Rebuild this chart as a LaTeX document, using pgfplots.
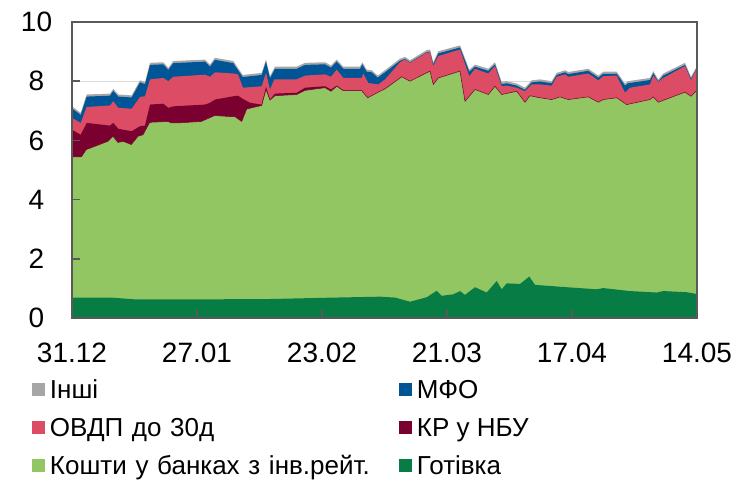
\documentclass[border=0pt]{standalone}
\usepackage{fontspec}
\setmainfont{Liberation Sans}
\usepackage{pgfplots}
\pgfplotsset{compat=1.18}
\definecolor{cGray}{HTML}{A6A6A6}
\definecolor{cBlue}{HTML}{005596}
\definecolor{cPink}{HTML}{DC4D65}
\definecolor{cMaroon}{HTML}{7A0030}
\definecolor{cLight}{HTML}{92C663}
\definecolor{cDark}{HTML}{077D45}
\definecolor{cAxis}{HTML}{595959}
\definecolor{cGrid}{HTML}{D9D9D9}
\begin{document}
\begin{tikzpicture}
\useasboundingbox (-54pt,-122.25pt) rectangle (498pt,238.5pt);
\begin{axis}[
  at={(0,0)}, anchor=south west,
  scale only axis, width=468.75pt, height=222pt,
  xmin=0, xmax=625, ymin=0, ymax=10,
  axis on top,
  axis line style={cAxis, line width=1.1pt},
  xtick={0,125,250,375,500,625},
  xticklabels={31.12,27.01,23.02,21.03,17.04,14.05},
  ytick={0,2,4,6,8,10},
  xtick pos=left, ytick pos=left,
  tick align=inside,
  major tick length=6pt,
  tick style={cAxis, line width=1.1pt},
  tick label style={font=\fontsize{21}{25}\selectfont},
  yticklabel style={anchor=center, xshift=-26.6pt},
  xticklabel style={anchor=center, yshift=-26.25pt},
  /pgf/number format/assume math mode=true,
  legend columns=2, legend cell align=left,
  legend style={
    draw=none, fill=none, inner sep=0pt, outer sep=0pt,
    at={(0,0)}, anchor=north west, xshift=-30pt, yshift=-46.5pt,
    font=\fontsize{19.5}{23}\selectfont,
    row sep=10.5pt,
    nodes={inner sep=0pt, text height=14pt, text depth=4pt},
    /tikz/column 1/.style={column sep=3.75pt},
    /tikz/column 2/.style={text width=261.75pt, column sep=0pt},
    /tikz/column 3/.style={column sep=3.75pt},
  },
  legend image code/.code={\fill[#1,draw=none] (0pt,-2.9pt) rectangle (9.75pt,6.9pt);},
]
\addplot[cGrid, line width=0.75pt, forget plot] coordinates {(0,8) (625,8)};
\addplot[cGrid, line width=0.75pt, forget plot] coordinates {(0,6) (625,6)};

% Інші (top of stack)
\addplot[fill=cGray, draw=none] coordinates {
(0,7.15) (8.7,6.93) (14.7,7.55) (38,7.58) (41.3,7.74) (46.3,7.55) (59.7,7.52) (68,8.03) (73,7.97) (78,8.62) (91.3,8.64) (96.3,8.45) (101.3,8.68) (133,8.73) (138,8.56) (143,8.79) (161.3,8.68) (170.7,8.21) (189.7,8.28) (194,8.73) (198,8.17) (203,8.49) (224.7,8.49) (233,8.62) (253,8.64) (259,8.53) (264.7,8.73) (271.3,8.49) (288,8.49) (290.3,8.64) (294.7,8.39) (299.7,8.37) (305.7,8.19) (313,8.37) (328,8.76) (333,8.82) (338,8.71) (354.7,9.05) (358,9.07) (361.3,8.64) (366.3,9.01) (388,9.21) (397.3,8.39) (403,8.56) (416.3,8.42) (423,8.64) (429.7,7.97) (434.7,8.00) (444.7,7.92) (453,7.78) (459.7,8.03) (468,8.06) (479.7,8.00) (484.7,8.28) (493,8.37) (496.3,8.31) (516.3,8.42) (526.3,8.19) (531.3,8.32) (544.7,8.32) (553,7.92) (556,8.00) (578,8.11) (581.3,8.34) (586.3,8.06) (591.3,8.26) (613,8.62) (619,8.15) (625,8.51)
} \closedcycle;
\addlegendentry{Інші}

% МФО
\addplot[fill=cBlue, draw=none] coordinates {
(0,7.08) (8.7,6.86) (14.7,7.48) (38,7.51) (41.3,7.67) (46.3,7.48) (59.7,7.45) (68,7.96) (73,7.90) (78,8.55) (91.3,8.57) (96.3,8.38) (101.3,8.61) (133,8.66) (138,8.49) (143,8.72) (161.3,8.61) (170.7,8.14) (189.7,8.21) (194,8.66) (198,8.10) (203,8.42) (224.7,8.42) (233,8.55) (253,8.57) (259,8.46) (264.7,8.66) (271.3,8.42) (288,8.42) (290.3,8.57) (294.7,8.32) (299.7,8.30) (305.7,8.12) (313,8.30) (328,8.69) (333,8.75) (338,8.64) (354.7,8.98) (358,9.00) (361.3,8.57) (366.3,8.94) (388,9.14) (397.3,8.32) (403,8.49) (416.3,8.35) (423,8.57) (429.7,7.90) (434.7,7.93) (444.7,7.85) (453,7.71) (459.7,7.96) (468,7.99) (479.7,7.93) (484.7,8.21) (493,8.30) (496.3,8.24) (516.3,8.35) (526.3,8.12) (531.3,8.25) (544.7,8.25) (553,7.85) (556,7.93) (578,8.04) (581.3,8.27) (586.3,7.99) (591.3,8.19) (613,8.55) (619,8.08) (625,8.46)
} \closedcycle;
\addlegendentry{МФО}

% ОВДП до 30д
\addplot[fill=cPink, draw=none] coordinates {
(0,6.76) (8.7,6.59) (14.7,7.13) (38,7.18) (41.3,7.32) (46.3,7.10) (59.7,7.07) (68,7.47) (73,7.49) (78,8.06) (91.3,8.11) (96.3,8.00) (101.3,8.15) (133,8.22) (138,8.15) (143,8.30) (161.3,8.26) (166,8.23) (171,7.78) (189.7,7.83) (194,8.28) (198,7.72) (202.3,8.06) (224.7,8.06) (233,8.19) (253,8.23) (259,8.15) (264.7,8.39) (271.3,8.11) (289.7,8.11) (291.3,8.26) (296.3,7.94) (306.3,7.89) (313,8.06) (328,8.64) (333,8.73) (338,8.62) (354.7,8.96) (358,8.98) (361.3,8.51) (366.3,8.85) (388,9.07) (397.3,8.17) (403,8.42) (416.3,8.26) (423,8.51) (429.7,7.83) (434.7,7.85) (444.7,7.78) (453,7.66) (459.7,7.89) (468,7.89) (479.7,7.85) (484.7,8.15) (493,8.23) (496.3,8.15) (516.3,8.26) (526.3,8.03) (531.3,8.17) (544.7,8.19) (553,7.61) (558,7.78) (578,7.89) (581.3,8.19) (586.3,7.97) (591.3,8.11) (613,8.51) (619,8.03) (625,8.45)
} \closedcycle;
\addlegendentry{ОВДП до 30д}

% КР у НБУ
\addplot[fill=cMaroon, draw=none] coordinates {
(0,6.36) (8.7,6.19) (14.7,6.59) (38,6.50) (41.3,6.59) (46.3,6.39) (59.7,6.31) (68,6.48) (73,6.50) (78,7.21) (91.3,7.24) (96.3,7.10) (101.3,7.15) (133,7.21) (138,7.27) (143,7.38) (161.3,7.49) (166,7.51) (171,7.40) (178,7.27) (189.7,7.21) (194,7.81) (198,7.38) (203,7.58) (224.7,7.61) (233,7.78) (253,7.83) (259,7.72) (264.7,7.85) (271.3,7.69) (289.7,7.69) (292,7.60)
} \closedcycle;
\addlegendentry{КР у НБУ}

% Кошти у банках з інв.рейт.
\addplot[fill=cLight, draw=cMaroon, line width=0.4pt] coordinates {
(0,5.44) (9.3,5.44) (14.3,5.69) (36,5.97) (41,6.14) (46,5.93) (51,5.97) (59.3,5.86) (66,6.14) (71,6.19) (77.7,6.61) (96,6.64) (99.3,6.59) (106,6.59) (129.3,6.64) (142.7,6.84) (156,6.81) (163,6.80) (169.7,6.64) (174.7,7.06) (189.7,7.18) (194,7.72) (198,7.36) (203,7.51) (224.7,7.55) (233,7.69) (253,7.78) (259,7.66) (264.7,7.83) (271.3,7.68) (289.7,7.68) (295.7,7.44) (308,7.66) (313,7.74) (329.7,8.15) (338,8.00) (358,8.34) (361.3,7.89) (366.3,8.11) (388,8.34) (393,7.32) (403,7.72) (416.3,7.55) (423,7.83) (429.7,7.55) (444.7,7.66) (453,7.29) (458,7.51) (468,7.44) (479.7,7.38) (488,7.47) (496.3,7.38) (516.3,7.47) (526.3,7.29) (531.3,7.38) (544.7,7.44) (554.7,7.21) (578,7.38) (581.3,7.47) (586.3,7.29) (613,7.63) (619,7.49) (625,7.69)
} \closedcycle;
\addlegendentry{Кошти у банках з інв.рейт.}

% Готівка
\addplot[fill=cDark, draw=none] coordinates {
(0,0.69) (39,0.69) (62.7,0.63) (129,0.63) (196,0.64) (262.7,0.69) (308,0.72) (323,0.69) (338,0.55) (354.7,0.70) (364.7,0.92) (369.7,0.75) (381.3,0.80) (388,0.91) (393,0.78) (403,1.04) (414.7,0.86) (424.7,1.25) (429.7,0.97) (434.7,1.17) (448,1.15) (457.3,1.40) (463,1.12) (494.7,1.04) (524.7,0.97) (531.3,1.01) (558,0.91) (584.7,0.86) (591.3,0.91) (614.7,0.87) (625,0.81)
} \closedcycle;
\addlegendentry{Готівка}
\end{axis}
\end{tikzpicture}
\end{document}
